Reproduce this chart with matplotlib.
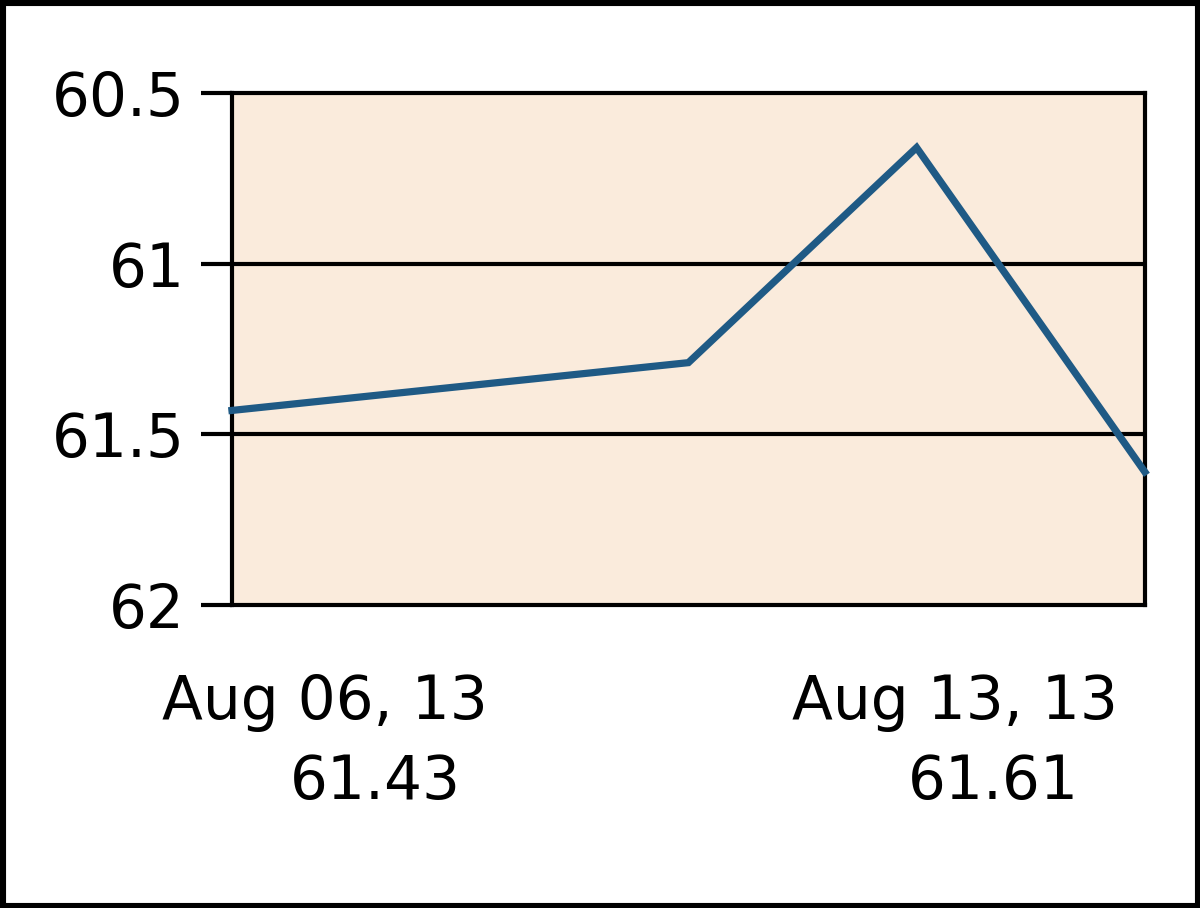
import matplotlib
matplotlib.use("Agg")
import matplotlib.pyplot as plt
from matplotlib.patches import Rectangle

plt.rcParams['font.family'] = ['DejaVu Sans']

# daily closes
days = [0, 1, 2, 3, 4]
closes = [61.43, 61.36, 61.29, 60.66, 61.61]
date_labels = ["Aug 06, 13", "Aug 13, 13"]
yticks = [60.5, 61, 61.5, 62]
ytick_labels = ["60.5", "61", "61.5", "62"]

fig = plt.figure(figsize=(12, 9.08), dpi=100)
fig.patch.set_facecolor("white")

ax = fig.add_axes([0.1933, 0.3337, 0.7607, 0.5639])
ax.set_facecolor("#FAEBDC")
ax.plot(days, closes, color="#1F5A85", lw=5.2, solid_joinstyle="miter", clip_on=False, zorder=3)

ax.set_xlim(days[0], days[-1])
ax.set_ylim(62, 60.5)
ax.set_yticks(yticks)
ax.set_yticklabels(ytick_labels, fontsize=43)
ax.set_xticks([])
ax.tick_params(axis="y", length=22, width=3, pad=12, color="black")
for s in ax.spines.values():
    s.set_linewidth(3)
    s.set_color("black")
for g in yticks[1:-1]:
    ax.axhline(g, color="black", lw=3, zorder=2)

# first and last date with their values under the plot
fig.text(325 / 1200, 1 - 703 / 908, date_labels[0], ha="center", va="center", fontsize=43)
fig.text(375 / 1200, 1 - 783 / 908, f"{closes[0]:.2f}", ha="center", va="center", fontsize=43)
fig.text(955 / 1200, 1 - 703 / 908, date_labels[1], ha="center", va="center", fontsize=43)
fig.text(993 / 1200, 1 - 783 / 908, f"{closes[-1]:.2f}", ha="center", va="center", fontsize=43)

# outer frame
fig.add_artist(Rectangle((0, 0), 1, 1, transform=fig.transFigure, fill=False,
                         edgecolor="black", lw=8))

fig.savefig("out.png", dpi=100)
